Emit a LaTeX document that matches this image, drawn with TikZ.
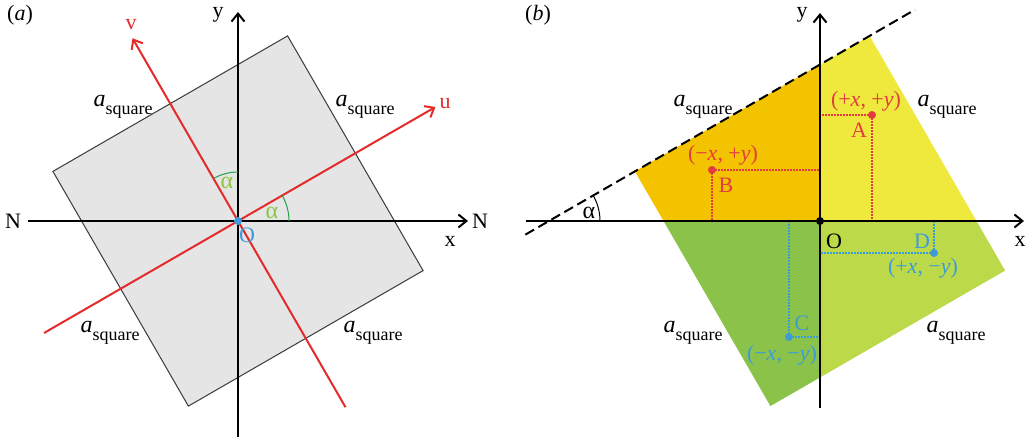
\documentclass[tikz,border=0pt]{standalone}
\usepackage{fontspec}
\setmainfont{Liberation Serif}
\usepackage{xcolor}
\usepackage{tikz}
\usetikzlibrary{positioning, arrows.meta, calc}
\definecolor{sqgray}{HTML}{E5E5E5}
\definecolor{sqedge}{HTML}{3A3A3A}
\definecolor{axred}{HTML}{E42A2A}
\definecolor{oblue}{HTML}{3B9BDC}
\definecolor{arcgreen}{HTML}{22A04B}
\definecolor{alphagreen}{HTML}{8CC63F}
\definecolor{qorange}{HTML}{F3C300}
\definecolor{qyellow}{HTML}{EFE93D}
\definecolor{qgreen}{HTML}{8BC34A}
\definecolor{qlime}{HTML}{BCD949}
\definecolor{ptred}{HTML}{E23B40}
\definecolor{ptblue}{HTML}{3D9BD8}
\newcommand{\lbl}{\fontsize{11}{12}\selectfont}
\newcommand{\asq}{{\fontsize{12}{12}\selectfont\itshape a}\raisebox{-4pt}{\fontsize{9}{9}\selectfont square}}
\tikzset{
  axis/.style   ={line width=1pt, ->},
  redaxis/.style={line width=1pt, ->, draw=axred},
  sqbox/.style  ={fill=sqgray, draw=sqedge, line width=0.5pt},
  dashline/.style={line width=1pt, dash pattern=on 5pt off 2.5pt},
  redguide/.style={line width=1.2pt, draw=ptred, dash pattern=on 0.9pt off 0.6pt},
  blueguide/.style={line width=1.2pt, draw=ptblue, dash pattern=on 0.9pt off 0.6pt},
  anglearc/.style={line width=0.5pt},
  dot/.style    ={circle, inner sep=0pt, minimum size=4pt},
  lbl/.style    ={inner sep=1pt},
  alph/.style   ={inner sep=1pt, font=\fontsize{12}{12}\selectfont},
}

\begin{document}
\begin{tikzpicture}[x=0.5pt, y=0.5pt, font=\lbl, >={Straight Barb[length=4pt, width=6.5pt]}]
  \useasboundingbox (0,0) rectangle (1029,438);
  % (a)
  \coordinate (Oa) at (238,217);
  \node[lbl] (tagA) at (20,423) {(\textit{a})};
  \begin{scope}[shift={(Oa)}, rotate=30]
    \draw[sqbox] (-135.5,-135.5) -- (135.5,-135.5) -- (135.5,135.5) -- (-135.5,135.5) -- cycle;
  \end{scope}
  \coordinate (xa0) at (28,217);
  \coordinate (xa1) at (468,217);
  \coordinate (ya0) at (238,1);
  \coordinate (ya1) at (238,426);
  \coordinate (ua0) at ($(Oa)+(210:224)$);
  \coordinate (ua1) at ($(Oa)+(30:228)$);
  \coordinate (va0) at ($(Oa)+(300:215)$);
  \coordinate (va1) at ($(Oa)+(120:211)$);
  \draw[axis] (xa0) -- (xa1);
  \draw[axis] (ya0) -- (ya1);
  \draw[redaxis] (ua0) -- (ua1);
  \draw[redaxis] (va0) -- (va1);
  \draw[anglearc, arcgreen] ($(Oa)+(51,0)$) arc (0:30:51);
  \draw[anglearc, arcgreen] ($(Oa)+(0,49)$) arc (90:120:49);
  \node[alph, text=alphagreen] (alA1) at ($(Oa)+(34,8)$) {α};
  \node[alph, text=alphagreen] (alA2) at ($(Oa)+(-11,38)$) {α};
  \node[dot, fill=oblue] (dotA) at (Oa) {};
  \node[lbl, text=oblue] (OlA) at ($(Oa)+(9,-14)$) {O};
  \node[lbl] (NlA) at (13,217) {N};
  \node[lbl] (NrA) at (480,217) {N};
  \node[lbl] (xlA) at (450,197) {x};
  \node[lbl] (ylA) at (218,423) {y};
  \node[lbl, text=axred] (ulA) at (445,334) {u};
  \node[lbl, text=axred] (vlA) at (131,413) {v};
  \node[lbl] (sqA1) at (123,331) {\asq};
  \node[lbl] (sqA2) at (365,331) {\asq};
  \node[lbl] (sqA3) at (110,105) {\asq};
  \node[lbl] (sqA4) at (373,105) {\asq};

  % (b)
  \coordinate (Ob) at (820,217);
  \node[lbl] (tagB) at (538,423) {(\textit{b})};
  \begin{scope}
    \clip[shift={(Ob)}, rotate=30] (-135.5,-135.5) -- (135.5,-135.5) -- (135.5,135.5) -- (-135.5,135.5) -- cycle;
    \fill[qorange] (Ob) rectangle ++(-300,300);
    \fill[qyellow] (Ob) rectangle ++(300,300);
    \fill[qgreen] (Ob) rectangle ++(-300,-300);
    \fill[qlime] (Ob) rectangle ++(300,-300);
  \end{scope}
  \begin{scope}[shift={(Ob)}, rotate=30]
    \coordinate (d0) at (-262,135.5);
    \coordinate (d1) at (188,135.5);
  \end{scope}
  \draw[dashline] (d0) -- (d1);
  \coordinate (Pb) at ($(Ob)+(-271,0)$);
  \draw[anglearc] ($(Pb)+(51,0)$) arc (0:30:51);
  \node[alph] (alB) at ($(Ob)+(-231,8)$) {α};

  \coordinate (A) at ($(Ob)+(52,106)$);
  \coordinate (B) at ($(Ob)+(-108,51)$);
  \coordinate (C) at ($(Ob)+(-31,-116)$);
  \coordinate (D) at ($(Ob)+(114,-32)$);
  \draw[redguide] (A) -- (Ob |- A);
  \draw[redguide] (A) -- (A |- Ob);
  \draw[redguide] (B) -- (Ob |- B);
  \draw[redguide] (B) -- (B |- Ob);
  \draw[blueguide] (C) -- (Ob |- C);
  \draw[blueguide] (C) -- (C |- Ob);
  \draw[blueguide] (D) -- (Ob |- D);
  \draw[blueguide] (D) -- (D |- Ob);

  \coordinate (xb0) at (526,217);
  \coordinate (xb1) at (1024,217);
  \coordinate (yb0) at (820,30);
  \coordinate (yb1) at (820,425);
  \draw[axis] (xb0) -- (xb1);
  \draw[axis] (yb0) -- (yb1);
  \node[dot, fill=black] (dotB) at (Ob) {};
  \node[dot, fill=ptred] (dotPA) at (A) {};
  \node[dot, fill=ptred] (dotPB) at (B) {};
  \node[dot, fill=ptblue] (dotPC) at (C) {};
  \node[dot, fill=ptblue] (dotPD) at (D) {};

  \node[lbl] (OlB) at ($(Ob)+(14,-20)$) {O};
  \node[lbl] (xlB) at (1020,197) {x};
  \node[lbl] (ylB) at (802,423) {y};
  \node[lbl, text=ptred] (lA) at ($(Ob)+(39,91)$) {A};
  \node[lbl, text=ptred] (cA) at ($(Ob)+(46,120)$) {(+\textit{x}, +\textit{y})};
  \node[lbl, text=ptred] (lB) at ($(Ob)+(-94,36)$) {B};
  \node[lbl, text=ptred] (cB) at ($(Ob)+(-97,66)$) {(−\textit{x}, +\textit{y})};
  \node[lbl, text=ptblue] (lC) at ($(Ob)+(-18,-102)$) {C};
  \node[lbl, text=ptblue] (cC) at ($(Ob)+(-38,-134)$) {(−\textit{x}, −\textit{y})};
  \node[lbl, text=ptblue] (lD) at ($(Ob)+(102,-20)$) {D};
  \node[lbl, text=ptblue] (cD) at ($(Ob)+(103,-47)$) {(+\textit{x}, −\textit{y})};
  \node[lbl] (sqB1) at ($(Ob)+(-117,114)$) {\asq};
  \node[lbl] (sqB2) at ($(Ob)+(127,114)$) {\asq};
  \node[lbl] (sqB3) at ($(Ob)+(-127,-112)$) {\asq};
  \node[lbl] (sqB4) at ($(Ob)+(136,-112)$) {\asq};
\end{tikzpicture}
\end{document}
